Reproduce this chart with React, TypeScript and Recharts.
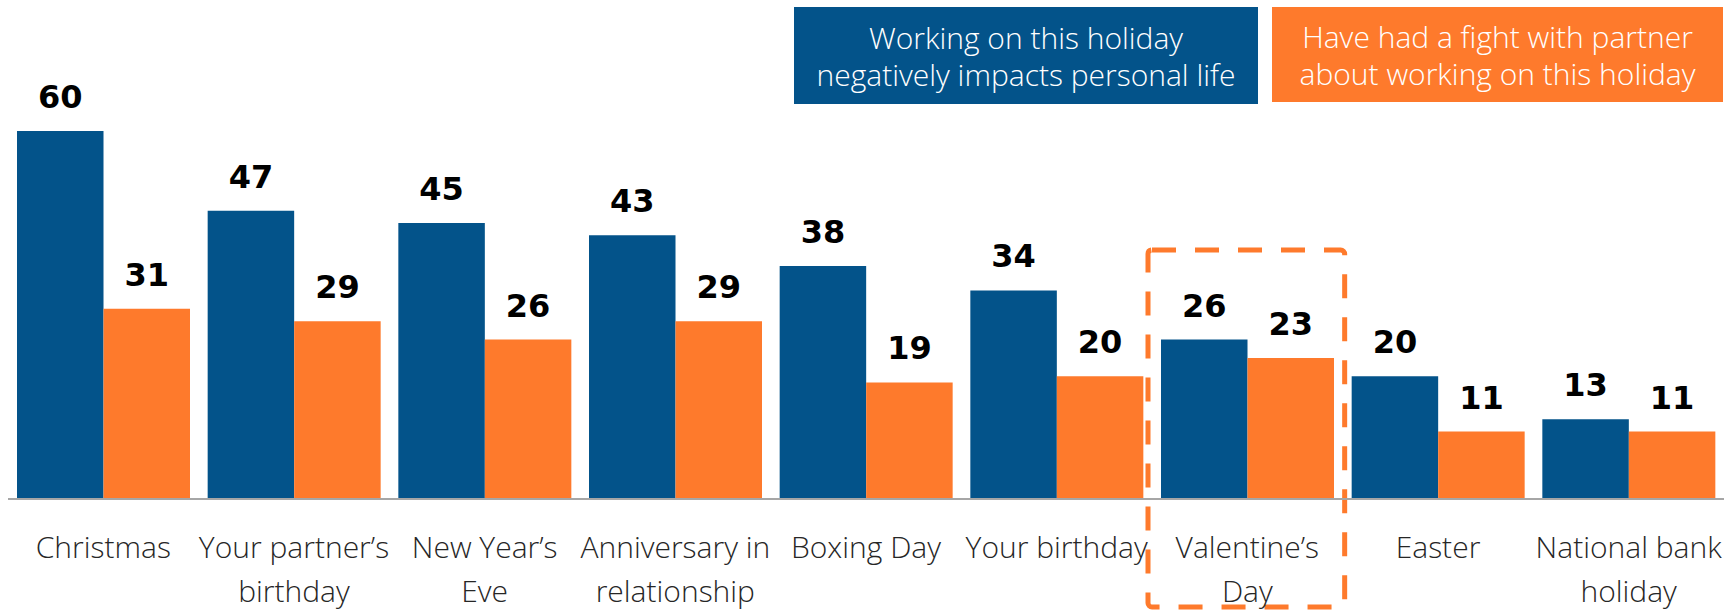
import { BarChart, Bar, XAxis, YAxis, LabelList, ReferenceArea } from 'recharts';

const categories = [
  'Christmas',
  'Your partner’s\nbirthday',
  'New Year’s\nEve',
  'Anniversary in\nrelationship',
  'Boxing Day',
  'Your birthday',
  'Valentine’s\nDay',
  'Easter',
  'National bank\nholiday',
];
const negativeImpact = [60, 47, 45, 43, 38, 34, 26, 20, 13];
const fightWithPartner = [31, 29, 26, 29, 19, 20, 23, 11, 11];

const seriesNames = [
  'Working on this holiday\nnegatively impacts personal life',
  'Have had a fight with partner\nabout working on this holiday',
];
const highlighted = 'Valentine’s\nDay';

const BLUE = '#03538a';
const ORANGE = '#fe7a2c';
const FONT = '"Open Sans", "Noto Sans", sans-serif';

const data = categories.map((name, i) => ({
  name,
  impact: negativeImpact[i],
  fight: fightWithPartner[i],
}));

function HolidayTick(props: any) {
  const { x, y, payload } = props;
  const lines = String(payload.value).split('\n');
  return (
    <text x={x} y={y} textAnchor="middle" fill="#262626" fontFamily={FONT} fontWeight={300} fontSize={30}>
      {lines.map((line, i) => (
        <tspan key={i} x={x} dy={i === 0 ? 59 : 44}>
          {line}
        </tspan>
      ))}
    </text>
  );
}

function DashedBox(props: any) {
  const { x, y, width, height } = props;
  return (
    <rect
      x={x - 4}
      y={y}
      width={width + 6}
      height={height}
      rx={4}
      fill="none"
      stroke={ORANGE}
      strokeWidth={5}
      strokeDasharray="24 19"
    />
  );
}

function LegendBoxes() {
  const boxes = [
    { left: 794, width: 464, height: 97, color: BLUE, text: seriesNames[0] },
    { left: 1272, width: 451, height: 95, color: ORANGE, text: seriesNames[1] },
  ];
  return (
    <>
      {boxes.map((b) => (
        <div
          key={b.left}
          style={{
            position: 'absolute',
            left: b.left,
            top: 7,
            width: b.width,
            height: b.height,
            background: b.color,
            color: '#fff',
            fontFamily: FONT,
            fontWeight: 300,
            fontSize: 30,
            lineHeight: '37px',
            display: 'flex',
            flexDirection: 'column',
            alignItems: 'center',
            justifyContent: 'center',
            textAlign: 'center',
            whiteSpace: 'nowrap',
          }}
        >
          {b.text.split('\n').map((line) => (
            <div key={line}>{line}</div>
          ))}
        </div>
      ))}
    </>
  );
}

export default function App() {
  return (
    <div style={{ position: 'absolute', left: 0, top: 0, width: 1724, height: 612, background: '#fff' }}>
      <BarChart
        width={1724}
        height={612}
        data={data}
        margin={{ top: 131, right: 0, left: 8, bottom: 0 }}
        barGap={0}
        barSize={86.5}
      >
        <XAxis
          dataKey="name"
          interval={0}
          height={113}
          tickLine={false}
          tickSize={0}
          tickMargin={0}
          axisLine={{ stroke: '#a6a6a6', strokeWidth: 2 }}
          tick={HolidayTick}
        />
        <YAxis hide domain={[0, 60]} />
        <Bar dataKey="impact" fill={BLUE} isAnimationActive={false}>
          <LabelList
            dataKey="impact"
            position="top"
            offset={23}
            fill="#000"
            fontFamily='"DejaVu Sans", sans-serif'
            fontWeight={700}
            fontSize={32}
          />
        </Bar>
        <Bar dataKey="fight" fill={ORANGE} isAnimationActive={false}>
          <LabelList
            dataKey="fight"
            position="top"
            offset={23}
            fill="#000"
            fontFamily='"DejaVu Sans", sans-serif'
            fontWeight={700}
            fontSize={32}
          />
        </Bar>
        <ReferenceArea
          x1={highlighted}
          x2={highlighted}
          y1={-17.6}
          y2={40.6}
          ifOverflow="visible"
          shape={DashedBox}
        />
      </BarChart>
      <LegendBoxes />
    </div>
  );
}
